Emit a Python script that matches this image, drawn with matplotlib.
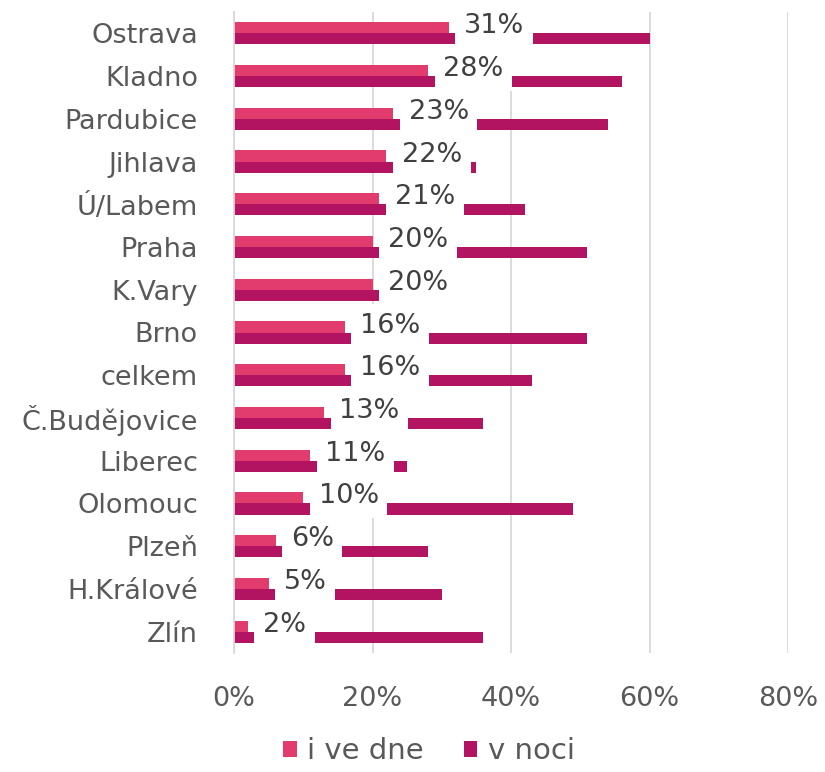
import matplotlib.pyplot as plt
import numpy as np

cities = ['Ostrava', 'Kladno', 'Pardubice', 'Jihlava', 'Ú/Labem', 'Praha', 'K.Vary',
          'Brno', 'celkem', 'Č.Budějovice', 'Liberec', 'Olomouc', 'Plzeň', 'H.Králové', 'Zlín']
day = [31, 28, 23, 22, 21, 20, 20, 16, 16, 13, 11, 10, 6, 5, 2]
night = [60, 56, 54, 35, 42, 51, 28, 51, 43, 36, 25, 49, 28, 30, 36]
xticks = [0, 20, 40, 60, 80]

day_color = '#E23C6E'
night_color = '#B21461'
text_color = '#595959'
label_color = '#404040'

plt.rcParams['font.family'] = 'DejaVu Sans'

fig = plt.figure(figsize=(8.25, 7.72), dpi=100)
ax = fig.add_axes([234 / 825, 1 - 653 / 772, (788 - 234) / 825, (653 - 12) / 772])

y = np.arange(len(cities))
h = 0.26
ax.barh(y - h / 2, day, height=h, color=day_color, label='i ve dne', zorder=2)
ax.barh(y + h / 2, night, height=h, color=night_color, label='v noci', zorder=2)

# labels on the day bars, with white boxes hiding the night bars behind them
for yi, v in zip(y, day):
    ax.annotate(f'{v}%', xy=(v, yi - h / 2), xytext=(11, 1), textcoords='offset points',
                ha='left', va='center', fontsize=19.5, color=label_color, zorder=5,
                bbox=dict(boxstyle='square,pad=0.32', fc='white', ec='none'))

ax.set_xlim(0, 80)
ax.set_ylim(len(cities) - 0.5, -0.5)
ax.set_xticks(xticks)
ax.set_xticklabels([f'{t}%' for t in xticks])
ax.set_yticks(y)
ax.set_yticklabels(cities)
ax.tick_params(axis='x', length=0, pad=24, labelsize=19.5, labelcolor=text_color)
ax.tick_params(axis='y', length=0, pad=26, labelsize=19.5, labelcolor=text_color)
ax.grid(axis='x', color='#D9D9D9', linewidth=1.3, zorder=0)
ax.set_axisbelow(True)
for s in ['top', 'right', 'bottom']:
    ax.spines[s].set_visible(False)
ax.spines['left'].set_color('#D9D9D9')
ax.spines['left'].set_linewidth(1.3)

fig.legend(loc='center', bbox_to_anchor=(0.52, 0.027), ncol=2, frameon=False,
           fontsize=21, labelcolor=text_color, handlelength=0.45, handleheight=0.45,
           handletextpad=0.35, columnspacing=1.4)

fig.savefig('out.png', dpi=100)
